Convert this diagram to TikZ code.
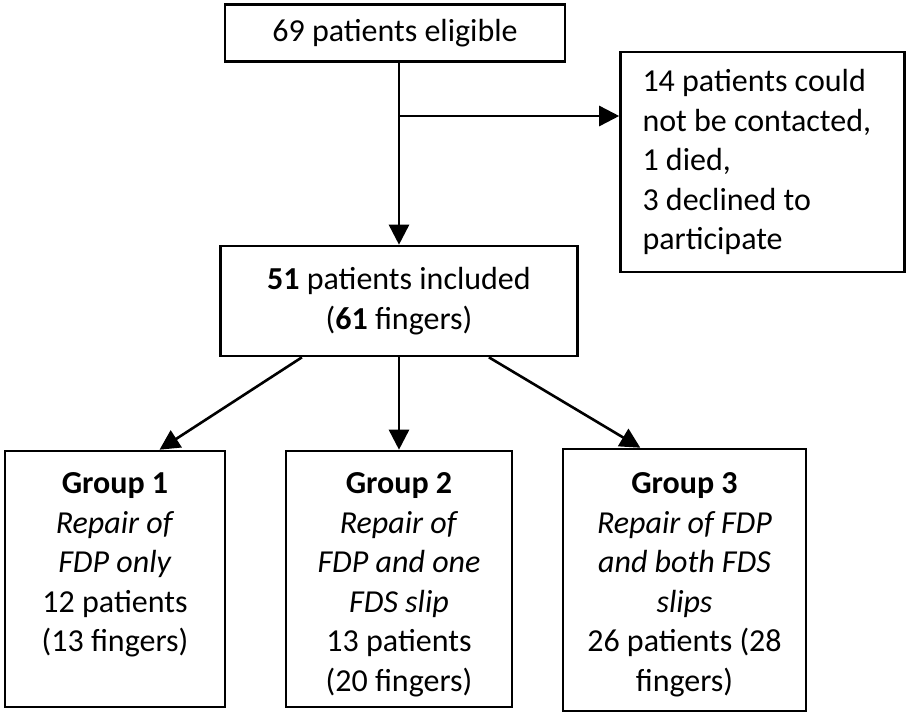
\documentclass[tikz,border=0pt]{standalone}
\usepackage{fontspec}
\setmainfont{Carlito}
\usetikzlibrary{arrows.meta,calc}

\tikzset{
    box/.style={draw, line width=2.6pt, inner sep=0pt, align=center},
    arrowline/.style={line width=2.6pt, -{Triangle[length=20pt,width=20pt]}}
}

\begin{document}
\begin{tikzpicture}[x=1pt, y=-1pt, font=\fontsize{32}{39.5}\selectfont]
    \useasboundingbox (0,0) rectangle (909,712);

    % top boxes
    \node[box, minimum width=340pt, minimum height=57pt] (eligible) at (395,33) {69 patients eligible};
    \node[box, align=flush left, inner xsep=22pt, text width=240pt, minimum height=220pt] (excluded) at (762.5,162)
        {14 patients could\\not be contacted,\\1 died,\\3 declined to\\participate};

    % included
    \node[box, minimum width=357pt, minimum height=110pt] (included) at (399,301)
        {\textbf{51} patients included\\(\textbf{61} fingers)};

    % the three groups
    \node[box] (group1) at (115,579) {\parbox[c][256pt][t]{220pt}{\centering\vspace*{22pt}%
        \textbf{Group 1}\\\textit{Repair of}\\\textit{FDP only}\\12 patients\\(13 fingers)}};
    \node[box] (group2) at (399,579) {\parbox[c][256pt][t]{226pt}{\centering\vspace*{22pt}%
        \textbf{Group 2}\\\textit{Repair of}\\\textit{FDP and one}\\\textit{FDS slip}\\13 patients\\(20 fingers)}};
    \node[box] (group3) at (684.5,580) {\parbox[c][262pt][t]{243pt}{\centering\vspace*{24pt}%
        \textbf{Group 3}\\\textit{Repair of FDP}\\\textit{and both FDS}\\\textit{slips}\\26 patients (28\\fingers)}};

    % arrows
    \draw[arrowline] (eligible.south -| included.north) -- (included.north);
    \coordinate (split) at (399,116);
    \draw[arrowline] (split) -- (split -| excluded.west);

    \draw[arrowline] ($(included.south west)!0.23!(included.south east)$)
        -- ($(group1.north west)!0.70!(group1.north east)$);
    \draw[arrowline] (included.south) -- (group2.north);
    \draw[arrowline] ($(included.south west)!0.75!(included.south east)$)
        -- ($(group3.north west)!0.32!(group3.north east)$);
\end{tikzpicture}
\end{document}
